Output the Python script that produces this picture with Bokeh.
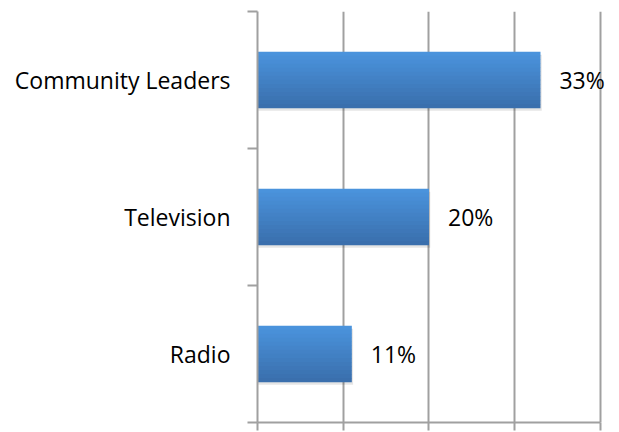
from bokeh.plotting import figure
from bokeh.models import ColumnDataSource, FixedTicker, LabelSet, Range1d
from bokeh.core.properties import value
from bokeh.embed import file_html
from bokeh.resources import INLINE

# Data (bottom to top)
categories = ["Radio", "Television", "Community Leaders"]
values = [11, 20, 33]
value_labels = ["11%", "20%", "33%"]
x_ticks = [0, 10, 20, 30, 40]

FONT = "Open Sans"
GRID = "#a0a0a0"

centers = [i + 0.5 for i in range(len(categories))]
bar_h = 0.41

# frame: 0..40 spans 343 px; extra room on the right so the "33%" label is not clipped
p = figure(width=619, height=432, output_backend="svg", toolbar_location=None,
           x_range=Range1d(0, 41.75), y_range=Range1d(0, len(categories)),
           min_border_left=257, min_border_right=4, min_border_top=11, min_border_bottom=10)
p.outline_line_color = None
p.background_fill_color = "white"
p.border_fill_color = "white"

# shadow
p.hbar(y=[c - 0.02 for c in centers], left=0, right=[v + 0.15 for v in values], height=bar_h,
       fill_color="#000000", fill_alpha=0.10, line_color=None)

# gradient bars built from strips
top_col = (0x4a, 0x93, 0xdc)
bot_col = (0x3a, 0x6f, 0xad)
n = 14
for k in range(n):
    t = k / (n - 1)
    col = tuple(int(round(top_col[j] * (1 - t) + bot_col[j] * t)) for j in range(3))
    hexc = "#%02x%02x%02x" % col
    off = bar_h / 2 - (k + 0.5) * bar_h / n
    p.hbar(y=[c + off for c in centers], left=0, right=values, height=bar_h / n + 0.002,
           fill_color=hexc, line_color=None)

src = ColumnDataSource(dict(x=values, y=centers, t=value_labels))
p.add_layout(LabelSet(x="x", y="y", text="t", source=src, x_offset=19, y_offset=0,
                      text_baseline="middle", text_align="left",
                      text_font=value(FONT), text_font_size="23px", text_color="#000000"))

# grid
p.xgrid.ticker = FixedTicker(ticks=x_ticks)
p.xgrid.grid_line_color = GRID
p.xgrid.grid_line_width = 2
p.ygrid.grid_line_color = None

# x axis (ticks only, no labels)
xa = p.xaxis[0]
xa.ticker = FixedTicker(ticks=x_ticks)
xa.bounds = (x_ticks[0], x_ticks[-1])
xa.major_label_overrides = {t: "" for t in x_ticks}
xa.axis_line_color = GRID
xa.axis_line_width = 2
xa.major_tick_line_color = GRID
xa.major_tick_line_width = 2
xa.major_tick_out = 8
xa.major_tick_in = 0
xa.minor_tick_line_color = None
xa.major_label_standoff = 0

# y axis
ya = p.yaxis[0]
ya.ticker = FixedTicker(ticks=centers, minor_ticks=list(range(len(categories) + 1)))
ya.major_label_overrides = {c: name for c, name in zip(centers, categories)}
ya.axis_line_color = GRID
ya.axis_line_width = 2
ya.major_tick_line_color = None
ya.major_tick_out = 0
ya.major_tick_in = 0
ya.minor_tick_line_color = GRID
ya.minor_tick_line_width = 2
ya.minor_tick_out = 10
ya.minor_tick_in = 0
ya.major_label_standoff = 17
ya.major_label_text_font = FONT
ya.major_label_text_font_size = "23px"
ya.major_label_text_color = "#000000"

open("out.html", "w").write(file_html(p, INLINE))
